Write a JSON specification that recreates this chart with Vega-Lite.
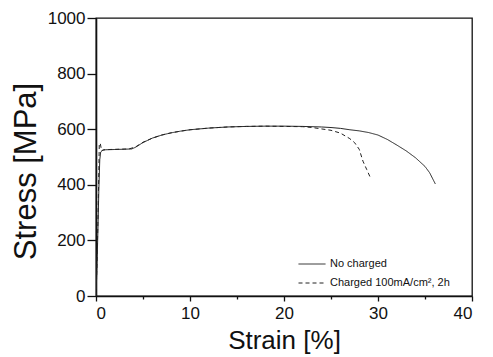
{
  "$schema": "https://vega.github.io/schema/vega-lite/v6.json",
  "width": 376,
  "height": 278,
  "autosize": {"type": "none"},
  "padding": {"left": 96, "top": 18, "right": 21, "bottom": 61},
  "background": "white",
  "config": {
    "font": "Liberation Sans",
    "view": {"stroke": "#111", "strokeWidth": 1.3},
    "axis": {"grid": false, "domainColor": "#111", "domainWidth": 1.6, "tickColor": "#111", "tickWidth": 1.3, "labelColor": "#111", "titleColor": "#111", "labelFont": "Liberation Sans", "titleFont": "Liberation Sans", "titleFontWeight": "normal"}
  },
  "data": {
    "values": [
      {"series": "No charged", "strain": 0, "stress": 0},
      {"series": "No charged", "strain": 0.1, "stress": 100},
      {"series": "No charged", "strain": 0.2, "stress": 230},
      {"series": "No charged", "strain": 0.3, "stress": 380},
      {"series": "No charged", "strain": 0.4, "stress": 490},
      {"series": "No charged", "strain": 0.5, "stress": 518},
      {"series": "No charged", "strain": 0.7, "stress": 524},
      {"series": "No charged", "strain": 1, "stress": 526},
      {"series": "No charged", "strain": 2, "stress": 527},
      {"series": "No charged", "strain": 3, "stress": 528},
      {"series": "No charged", "strain": 3.8, "stress": 529},
      {"series": "No charged", "strain": 4.2, "stress": 535},
      {"series": "No charged", "strain": 5, "stress": 552},
      {"series": "No charged", "strain": 6, "stress": 568},
      {"series": "No charged", "strain": 7, "stress": 579},
      {"series": "No charged", "strain": 8, "stress": 587},
      {"series": "No charged", "strain": 9, "stress": 593},
      {"series": "No charged", "strain": 10, "stress": 598},
      {"series": "No charged", "strain": 12, "stress": 604},
      {"series": "No charged", "strain": 14, "stress": 608},
      {"series": "No charged", "strain": 16, "stress": 610},
      {"series": "No charged", "strain": 18, "stress": 611},
      {"series": "No charged", "strain": 20, "stress": 611},
      {"series": "No charged", "strain": 22, "stress": 610},
      {"series": "No charged", "strain": 24, "stress": 608},
      {"series": "No charged", "strain": 25, "stress": 606},
      {"series": "No charged", "strain": 26, "stress": 603},
      {"series": "No charged", "strain": 27, "stress": 598},
      {"series": "No charged", "strain": 28, "stress": 594},
      {"series": "No charged", "strain": 29, "stress": 588},
      {"series": "No charged", "strain": 30, "stress": 579},
      {"series": "No charged", "strain": 31, "stress": 563},
      {"series": "No charged", "strain": 32, "stress": 543},
      {"series": "No charged", "strain": 33, "stress": 522},
      {"series": "No charged", "strain": 34, "stress": 497},
      {"series": "No charged", "strain": 35, "stress": 466},
      {"series": "No charged", "strain": 35.5, "stress": 443},
      {"series": "No charged", "strain": 36.1, "stress": 403},
      {"series": "Charged 100mA/cm², 2h", "strain": 0, "stress": 0},
      {"series": "Charged 100mA/cm², 2h", "strain": 0.1, "stress": 110},
      {"series": "Charged 100mA/cm², 2h", "strain": 0.2, "stress": 260},
      {"series": "Charged 100mA/cm², 2h", "strain": 0.3, "stress": 450},
      {"series": "Charged 100mA/cm², 2h", "strain": 0.35, "stress": 545},
      {"series": "Charged 100mA/cm², 2h", "strain": 0.45, "stress": 550},
      {"series": "Charged 100mA/cm², 2h", "strain": 0.6, "stress": 522},
      {"series": "Charged 100mA/cm², 2h", "strain": 0.8, "stress": 526},
      {"series": "Charged 100mA/cm², 2h", "strain": 1.5, "stress": 527},
      {"series": "Charged 100mA/cm², 2h", "strain": 2.5, "stress": 528},
      {"series": "Charged 100mA/cm², 2h", "strain": 3.5, "stress": 529},
      {"series": "Charged 100mA/cm², 2h", "strain": 4.2, "stress": 536},
      {"series": "Charged 100mA/cm², 2h", "strain": 5, "stress": 553},
      {"series": "Charged 100mA/cm², 2h", "strain": 6, "stress": 568},
      {"series": "Charged 100mA/cm², 2h", "strain": 7, "stress": 579},
      {"series": "Charged 100mA/cm², 2h", "strain": 8, "stress": 587},
      {"series": "Charged 100mA/cm², 2h", "strain": 9, "stress": 593},
      {"series": "Charged 100mA/cm², 2h", "strain": 10, "stress": 598},
      {"series": "Charged 100mA/cm², 2h", "strain": 12, "stress": 604},
      {"series": "Charged 100mA/cm², 2h", "strain": 14, "stress": 608},
      {"series": "Charged 100mA/cm², 2h", "strain": 16, "stress": 610},
      {"series": "Charged 100mA/cm², 2h", "strain": 18, "stress": 611},
      {"series": "Charged 100mA/cm², 2h", "strain": 20, "stress": 610},
      {"series": "Charged 100mA/cm², 2h", "strain": 22, "stress": 609},
      {"series": "Charged 100mA/cm², 2h", "strain": 23, "stress": 606},
      {"series": "Charged 100mA/cm², 2h", "strain": 24, "stress": 601},
      {"series": "Charged 100mA/cm², 2h", "strain": 25, "stress": 596},
      {"series": "Charged 100mA/cm², 2h", "strain": 26, "stress": 586},
      {"series": "Charged 100mA/cm², 2h", "strain": 27, "stress": 566},
      {"series": "Charged 100mA/cm², 2h", "strain": 27.5, "stress": 552},
      {"series": "Charged 100mA/cm², 2h", "strain": 28, "stress": 528},
      {"series": "Charged 100mA/cm², 2h", "strain": 28.4, "stress": 485},
      {"series": "Charged 100mA/cm², 2h", "strain": 28.8, "stress": 455},
      {"series": "Charged 100mA/cm², 2h", "strain": 29.2, "stress": 425}
    ]
  },
  "layer": [
    {
      "mark": {"type": "line", "strokeWidth": 1, "color": "#222", "clip": true},
      "encoding": {
        "x": {"field": "strain", "type": "quantitative", "scale": {"domain": [0, 40], "nice": false, "zero": false},
          "axis": {"values": [0, 10, 20, 30, 40], "title": "Strain [%]", "titleFontSize": 26, "labelFontSize": 17, "tickSize": 5, "labelPadding": 4, "titleBaseline": "alphabetic", "titleY": 52, "titleAnchor": "middle"}},
        "y": {"field": "stress", "type": "quantitative", "scale": {"domain": [0, 1000], "nice": false},
          "axis": {"values": [0, 200, 400, 600, 800, 1000], "format": "d", "title": "Stress [MPa]", "titleFontSize": 31, "labelFontSize": 17, "tickSize": 9, "labelPadding": 2, "titleAngle": -90, "titleX": -61, "titleY": 153, "titleAlign": "center", "titleBaseline": "alphabetic"}},
        "strokeDash": {"field": "series", "type": "nominal",
          "scale": {"domain": ["No charged", "Charged 100mA/cm², 2h"], "range": [[1, 0], [4, 3]]},
          "legend": {"title": null, "orient": "none", "legendX": 202, "legendY": 232, "symbolType": "stroke", "symbolSize": 729, "symbolStrokeWidth": 1, "symbolStrokeColor": "#222", "labelFontSize": 11, "labelFont": "Liberation Sans", "labelColor": "#111", "labelOffset": 4, "rowPadding": -10, "padding": 0}}
      }
    },
    {
      "mark": {"type": "line", "opacity": 0},
      "encoding": {
        "x": {"field": "strain", "type": "quantitative", "scale": {"domain": [0, 40], "nice": false, "zero": false},
          "axis": {"orient": "bottom", "values": [5, 15, 25, 35], "labels": false, "domain": false, "title": null, "tickSize": 3}},
        "y": {"field": "stress", "type": "quantitative"}
      }
    }
  ],
  "resolve": {"axis": {"x": "independent"}}
}
